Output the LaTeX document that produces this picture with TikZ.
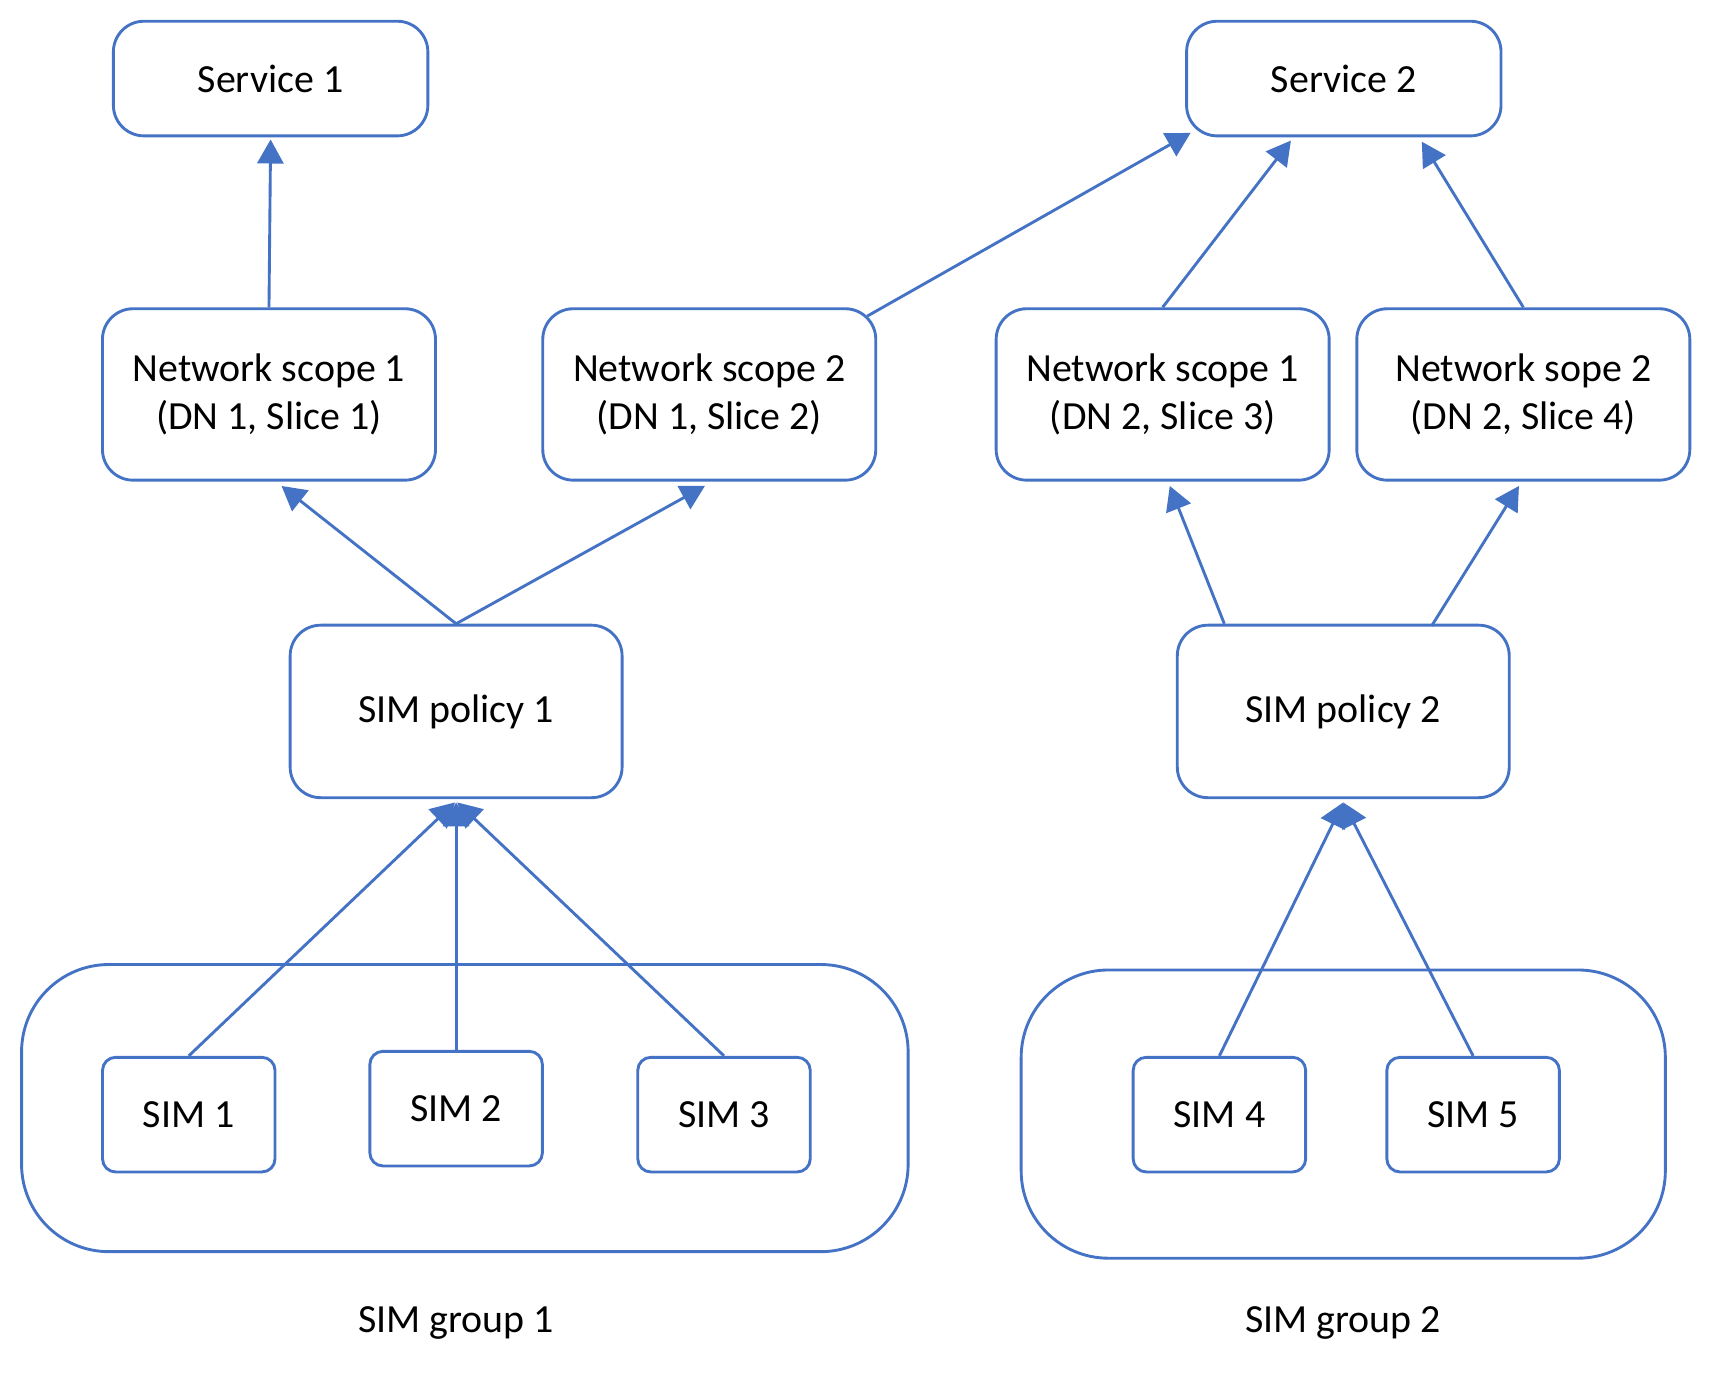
\documentclass[tikz,border=0pt]{standalone}
\usepackage{fontspec}
\setmainfont{Carlito}
\usetikzlibrary{arrows.meta,calc}
\definecolor{obl}{HTML}{4472C4}
\begin{document}
\begin{tikzpicture}[x=0.01cm,y=-0.01cm,
  box/.style={draw=obl,line width=0.75pt,rounded corners=0.28cm,inner sep=0pt,align=center,
    font=\fontsize{10.4}{12.3}\selectfont,text=black},
  svcbox/.style={box,minimum width=2.88cm,minimum height=1.05cm},
  nsbox/.style={box,minimum width=3.05cm,minimum height=1.57cm},
  polbox/.style={box,minimum width=3.04cm,minimum height=1.58cm},
  simbox/.style={box,rounded corners=0.12cm,minimum width=1.58cm,minimum height=1.05cm},
  grpbox/.style={draw=obl,line width=0.75pt,rounded corners=0.8cm,inner sep=0pt},
  lbl/.style={font=\fontsize{10.4}{12.3}\selectfont,inner sep=0pt},
  conn/.style={draw=obl,line width=0.75pt,-{Triangle[length=0.22cm,width=0.24cm]}}]
\useasboundingbox (0,0) rectangle (1568,1268);
% group boxes
\node[grpbox,minimum width=8.12cm,minimum height=2.63cm] (g1) at (426,1015.5) {};
\node[grpbox,minimum width=5.90cm,minimum height=2.64cm] (g2) at (1231,1021) {};
% services
\node[svcbox] (svc1) at (248,72) {Service 1};
\node[svcbox] (svc2) at (1231.5,72) {Service 2};
% network scopes
\node[nsbox] (ns1l) at (246.5,361.5) {Network scope 1\\(DN 1, Slice 1)};
\node[nsbox] (ns2l) at (650,361.5) {Network scope 2\\(DN 1, Slice 2)};
\node[nsbox] (ns1r) at (1065.5,361.5) {Network scope 1\\(DN 2, Slice 3)};
\node[nsbox] (ns2r) at (1396,361.5) {Network sope 2\\(DN 2, Slice 4)};
% policies
\node[polbox] (sp1) at (418,652) {SIM policy 1};
\node[polbox] (sp2) at (1231,652) {SIM policy 2};
% sims
\node[simbox] (sim1) at (173,1021.5) {SIM 1};
\node[simbox] (sim2) at (418,1016) {SIM 2};
\node[simbox] (sim3) at (663.5,1021.5) {SIM 3};
\node[simbox] (sim4) at (1117.5,1021.5) {SIM 4};
\node[simbox] (sim5) at (1350,1021.5) {SIM 5};
% labels
\node[lbl] (l1) at (418,1212) {SIM group 1};
\node[lbl] (l2) at (1231,1212) {SIM group 2};
% connectors
\draw[conn] (ns1l.north) -- ($(svc1.south)+(0,2)$);
\draw[conn] ($(ns2l.north east)+(-9,8)$) -- ($(svc2.south west)+(5,-4)$);
\draw[conn] (ns1r.north) -- ($(svc2.south)+(-48.5,3)$);
\draw[conn] (ns2r.north) -- ($(svc2.south)+(71.5,4)$);
\draw[conn] (sp1.north) -- ($(ns1l.south)+(11.5,4)$);
\draw[conn] (sp1.north) -- ($(ns2l.south)+(-4,4)$);
\draw[conn] ($(sp2.north)+(-109,0)$) -- ($(ns1r.south)+(6.5,4)$);
\draw[conn] ($(sp2.north)+(81,2)$) -- ($(ns2r.south)+(-4,4)$);
\draw[conn] (sim1.north) -- ($(sp1.south)+(-1,3)$);
\draw[conn] (sim2.north) -- ($(sp1.south)+(0,3)$);
\draw[conn] (sim3.north) -- ($(sp1.south)+(1,3)$);
\draw[conn] (sim4.north) -- ($(sp2.south)+(0,3)$);
\draw[conn] (sim5.north) -- ($(sp2.south)+(0,3)$);
\end{tikzpicture}
\end{document}
